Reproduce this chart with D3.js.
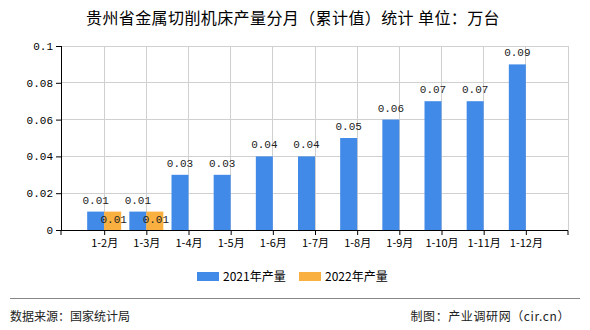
<!DOCTYPE html>
<html>
<head>
<meta charset="utf-8">
<script src="https://cdn.jsdelivr.net/npm/d3@7/dist/d3.min.js"></script>
<style>
  body { margin: 0; background: #fff; }
  svg { display: block; }
</style>
</head>
<body>
<svg id="chart" width="590" height="330"></svg>
<script>
// Monthly cumulative output (万台)
const categories = ["1-2月","1-3月","1-4月","1-5月","1-6月","1-7月","1-8月","1-9月","1-10月","1-11月","1-12月"];
const values2021 = [0.01,0.01,0.03,0.03,0.04,0.04,0.05,0.06,0.07,0.07,0.09];
const values2022 = [0.01,0.01,null,null,null,null,null,null,null,null,null];
const seriesNames = ["2021年产量","2022年产量"];
const yTicks = [0,0.02,0.04,0.06,0.08,0.1];

const colors = ["#428AE8","#FAB041"];
const monoFont = "'Liberation Mono','DejaVu Sans Mono',monospace";
const cjkFont = "'Noto Sans CJK SC','Noto Sans',sans-serif";

const svg = d3.select("#chart");
const plotL = 62, plotR = 568, plotT = 46, plotB = 230;

const x = d3.scalePoint().domain(categories).range([plotL, plotR]).padding(1);
const y = d3.scaleLinear().domain([0, 0.1]).range([plotB, plotT]);
const barW = 17;

// grid
svg.append("g").selectAll("line").data(yTicks.filter(d => d > 0)).join("line")
  .attr("x1", plotL).attr("x2", plotR)
  .attr("y1", d => y(d)).attr("y2", d => y(d))
  .attr("stroke", "#d0d0d0").attr("stroke-width", 1).attr("shape-rendering", "crispEdges");
svg.append("g").selectAll("line").data(categories.concat(["__end"])).join("line")
  .attr("x1", d => d === "__end" ? plotR : x(d)).attr("x2", d => d === "__end" ? plotR : x(d))
  .attr("y1", plotT).attr("y2", plotB)
  .attr("stroke", "#d0d0d0").attr("stroke-width", 1).attr("shape-rendering", "crispEdges");

// bars 2021
svg.append("g").selectAll("rect").data(values2021).join("rect")
  .attr("x", (d, i) => x(categories[i]) - barW)
  .attr("y", d => y(d)).attr("width", barW).attr("height", d => plotB - y(d))
  .attr("fill", colors[0]);
// bars 2022
const d22 = values2022.map((v, i) => ({v, c: categories[i]})).filter(d => d.v != null);
svg.append("g").selectAll("rect").data(d22).join("rect")
  .attr("x", d => x(d.c))
  .attr("y", d => y(d.v)).attr("width", barW).attr("height", d => plotB - y(d.v))
  .attr("fill", colors[1]);

// value labels
svg.append("g").selectAll("text").data(values2021).join("text")
  .attr("x", (d, i) => x(categories[i]) - barW / 2)
  .attr("y", d => y(d) - 8)
  .attr("text-anchor", "middle")
  .attr("font-family", monoFont).attr("font-size", 11).attr("fill", "#222")
  .text(d => d);
svg.append("g").selectAll("text").data(d22).join("text")
  .attr("x", d => x(d.c) + barW / 2 + 1)
  .attr("y", d => y(d.v) + 11)
  .attr("text-anchor", "middle")
  .attr("font-family", monoFont).attr("font-size", 11).attr("fill", "#222")
  .text(d => d.v);

// axes
const yAxis = d3.axisLeft(y).tickValues(yTicks).tickSize(6).tickPadding(3)
  .tickFormat(d => d === 0 ? "0" : String(+d.toFixed(2)));
const gy = svg.append("g").attr("transform", `translate(${plotL},0)`).call(yAxis);
gy.select(".domain").attr("d", `M-0.5,${plotT}V${plotB}`).attr("stroke", "#000");
gy.selectAll("text").attr("font-family", monoFont).attr("font-size", 11).attr("fill", "#000");

const xAxis = d3.axisBottom(x).tickSize(5).tickPadding(4);
const gx = svg.append("g").attr("transform", `translate(0,${plotB})`).call(xAxis);
gx.select(".domain").attr("d", `M${plotL - 1},5V0.5H${plotR}V5`).attr("stroke", "#000");
gx.selectAll("text").attr("font-family", cjkFont).attr("font-size", 11).attr("fill", "#000");

// title
svg.append("text").attr("x", 86).attr("y", 24)
  .attr("font-family", cjkFont).attr("font-size", 16).attr("letter-spacing", 0.4).attr("fill", "#000")
  .text("贵州省金属切削机床产量分月（累计值）统计 单位：万台");

// legend
const legend = svg.append("g");
seriesNames.forEach((n, i) => {
  const lx = 197 + i * 102;
  legend.append("rect").attr("x", lx).attr("y", 272).attr("width", 22).attr("height", 9).attr("fill", colors[i]);
  legend.append("text").attr("x", lx + 26).attr("y", 281)
    .attr("font-family", cjkFont).attr("font-size", 12).attr("fill", "#000").text(n);
});

// footer
svg.append("line").attr("x1", 10).attr("x2", 580).attr("y1", 298.5).attr("y2", 298.5)
  .attr("stroke", "#888").attr("stroke-width", 1);
svg.append("text").attr("x", 10).attr("y", 321)
  .attr("font-family", cjkFont).attr("font-size", 12).attr("fill", "#222").text("数据来源：国家统计局");
svg.append("text").attr("x", 570).attr("y", 321).attr("text-anchor", "end")
  .attr("font-family", cjkFont).attr("font-size", 12).attr("letter-spacing", 0.6).attr("fill", "#222")
  .text("制图：产业调研网（cir.cn）");
</script>
</body>
</html>
